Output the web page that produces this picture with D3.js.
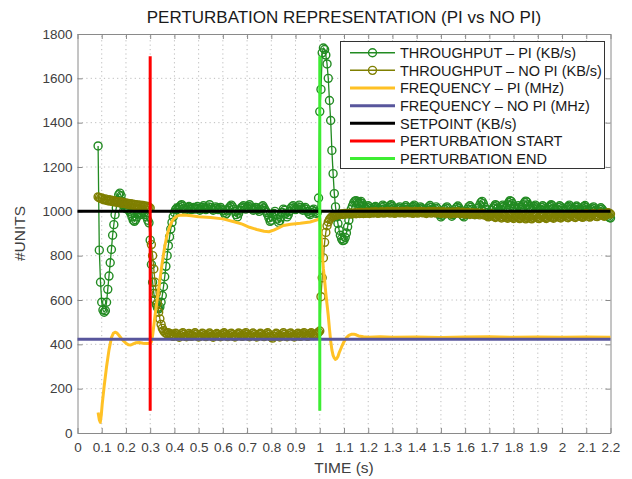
<!DOCTYPE html>
<html>
<head>
<meta charset="utf-8">
<script src="https://cdn.jsdelivr.net/npm/d3@7"></script>
<style>
  body { margin: 0; background: #fff; }
  svg  { display: block; font-family: "Liberation Sans", Arial, Helvetica, sans-serif; }
</style>
</head>
<body>
<svg id="chart" width="632" height="479"></svg>
<script>
'use strict';

// Sample clock of the two throughput traces (seconds).
var SAMPLE_T0 = 0.085;
var SAMPLE_DT = 0.005;

// Throughput with the PI controller (KB/s), one value per sample.
var throughputPI = [
  1295, 825, 680, 590, 555, 545, 552, 590, 648, 708, 768, 828, 892, 940, 985, 1015, 1050, 1075, 1082, 1070,
  1045, 1030, 1020, 1012, 1018, 1008, 1000, 990, 975, 960, 955, 962, 975, 990, 995, 985, 992, 1000, 995, 985,
  975, 960, 948, 870, 760, 680, 630, 600, 580, 565, 560, 568, 590, 620, 660, 705, 752, 800, 845, 885,
  920, 950, 975, 995, 1008, 1015, 1010, 1018, 1025, 1030, 1022, 1012, 1005, 1010, 1018, 1022, 1015, 1008, 1012, 1018,
  1010, 1015, 1022, 1012, 1005, 1010, 1018, 1025, 1015, 1008, 1012, 1020, 1030, 1018, 1010, 1005, 1012, 1020, 1015, 1008,
  1012, 1018, 1010, 1003, 995, 985, 990, 1005, 1015, 1022, 1028, 1020, 1010, 1000, 985, 975, 990, 1005, 1015, 1020,
  1025, 1018, 1010, 1015, 1022, 1030, 1020, 1012, 1005, 1010, 1018, 1015, 1008, 1000, 1010, 1020, 1025, 1015, 1005, 995,
  985, 970, 955, 960, 975, 990, 1000, 985, 965, 950, 958, 975, 995, 1010, 1005, 990, 975, 985, 1000, 1012,
  1020, 1025, 1015, 1008, 1012, 1020, 1028, 1018, 1010, 1005, 1012, 1018, 1010, 1000, 990, 985, 995, 1005, 1010, 1000,
  990, 995, 1060, 1450, 1550, 1715, 1737, 1730, 1705, 1665, 1600, 1500, 1410, 1275, 1170, 1080, 1020, 975, 945, 915,
  892, 876, 868, 870, 882, 902, 930, 960, 988, 1010, 1025, 1038, 1046, 1048, 1042, 1035, 1040, 1045, 1036, 1025,
  1015, 1010, 1018, 1025, 1020, 1012, 1005, 1010, 1018, 1022, 1015, 1008, 1002, 1010, 1020, 1028, 1022, 1012, 1006, 1012,
  1018, 1025, 1030, 1022, 1012, 1005, 1000, 1008, 1015, 1020, 1012, 1005, 1010, 1018, 1025, 1018, 1010, 1004, 1010, 1016,
  1022, 1028, 1020, 1012, 1006, 1012, 1020, 1015, 1008, 1002, 996, 1005, 1012, 1020, 1026, 1018, 1010, 1005, 1012, 1020,
  1012, 1000, 985, 975, 982, 995, 1008, 1015, 1020, 1012, 1000, 988, 978, 985, 998, 1010, 1018, 1024, 1015, 1005,
  992, 980, 975, 985, 998, 1010, 1020, 1025, 1018, 1008, 995, 985, 990, 1002, 1015, 1028, 1040, 1045, 1035, 1020,
  1008, 995, 985, 978, 990, 1005, 1015, 1022, 1030, 1025, 1015, 1005, 1010, 1020, 1028, 1022, 1012, 1018, 1030, 1040,
  1048, 1045, 1035, 1022, 1012, 1008, 1015, 1025, 1018, 1010, 1020, 1030, 1040, 1046, 1042, 1030, 1020, 1012, 1008, 1015,
  1022, 1028, 1020, 1012, 1006, 1010, 1018, 1025, 1020, 1012, 1005, 1010, 1018, 1024, 1030, 1025, 1015, 1008, 1004, 1010,
  1018, 1025, 1020, 1012, 1005, 1000, 1008, 1016, 1022, 1028, 1020, 1012, 1006, 1010, 1018, 1024, 1018, 1010, 1004, 1008,
  1015, 1022, 1026, 1018, 1010, 1004, 1000, 1008, 1015, 1020, 1012, 1005, 998, 1002, 1010, 1016, 1010, 1002, 995, 990,
  985, 978, 972, 970
];

// Throughput without the controller (KB/s), same sample clock.
var throughputNoPI = [
  1065, 1062, 1058, 1060, 1055, 1052, 1056, 1050, 1048, 1052, 1046, 1050, 1044, 1048, 1042, 1045, 1040, 1044, 1038, 1042,
  1036, 1040, 1035, 1038, 1032, 1036, 1030, 1034, 1028, 1032, 1027, 1030, 1026, 1029, 1024, 1028, 1022, 1026, 1020, 1024,
  1020, 1022, 1018, 1015, 850, 800, 740, 680, 630, 585, 545, 515, 490, 472, 462, 455, 450, 447, 452, 445,
  448, 440, 436, 442, 450, 446, 438, 432, 440, 448, 452, 445, 437, 434, 441, 449, 444, 436, 440, 447,
  452, 446, 438, 433, 437, 444, 450, 447, 440, 435, 439, 446, 451, 444, 437, 432, 438, 445, 449, 443,
  437, 434, 441, 448, 452, 446, 439, 435, 440, 447, 450, 443, 436, 433, 439, 446, 451, 447, 440, 436,
  441, 448, 453, 446, 438, 434, 440, 447, 451, 444, 437, 433, 438, 445, 450, 446, 439, 435, 441, 448,
  452, 445, 437, 432, 428, 436, 444, 450, 446, 438, 433, 439, 447, 452, 445, 437, 434, 440, 448, 451,
  444, 438, 433, 439, 446, 450, 443, 436, 441, 448, 453, 447, 440, 436, 442, 449, 452, 446, 440, 444,
  446, 450, 455, 460, 615, 700, 790, 860, 905, 935, 952, 963, 970, 975, 978, 980, 982, 984, 985, 986,
  987, 988, 986, 989, 990, 988, 991, 989, 992, 990, 988, 993, 991, 989, 994, 992, 990, 995, 992, 990,
  994, 991, 996, 993, 990, 995, 997, 992, 994, 998, 995, 991, 996, 993, 998, 995, 992, 997, 994, 999,
  996, 992, 997, 999, 994, 991, 996, 1000, 997, 993, 995, 999, 996, 992, 997, 1001, 996, 993, 998, 995,
  991, 996, 999, 995, 992, 997, 1000, 996, 993, 998, 994, 990, 995, 999, 996, 992, 997, 1000, 995, 992,
  996, 999, 994, 990, 995, 998, 993, 989, 994, 997, 992, 988, 993, 997, 994, 990, 995, 998, 993, 989,
  992, 996, 991, 987, 992, 995, 990, 986, 991, 994, 989, 985, 990, 993, 988, 984, 989, 992, 987, 983,
  986, 980, 975, 978, 984, 988, 982, 976, 972, 978, 985, 981, 975, 970, 976, 983, 979, 973, 969, 975,
  982, 978, 972, 968, 974, 981, 977, 971, 967, 973, 980, 976, 970, 966, 972, 979, 975, 969, 966, 972,
  978, 982, 976, 970, 967, 973, 979, 983, 977, 971, 968, 974, 980, 984, 978, 972, 969, 975, 981, 985,
  979, 973, 970, 976, 982, 986, 980, 974, 971, 977, 983, 987, 981, 975, 972, 978, 984, 988, 982, 976,
  973, 979, 985, 989, 983, 977, 974, 980, 986, 990, 984, 978, 976, 982, 988, 992, 986, 980, 978, 984,
  990, 994, 990, 988
];

// CPU frequency with the PI controller (MHz).
var freqPITime = [
  0.085, 0.09, 0.094, 0.098, 0.102, 0.11, 0.12, 0.13, 0.14, 0.148, 0.155, 0.162, 0.17, 0.18, 0.19, 0.2,
  0.21, 0.22, 0.23, 0.24, 0.255, 0.27, 0.285, 0.3, 0.305, 0.31, 0.32, 0.33, 0.34, 0.35, 0.36, 0.37,
  0.38, 0.39, 0.4, 0.41, 0.42, 0.44, 0.47, 0.5, 0.55, 0.6, 0.65, 0.68, 0.71, 0.74, 0.77, 0.79,
  0.81, 0.83, 0.85, 0.88, 0.92, 0.96, 0.99, 1.0, 1.005, 1.01, 1.015, 1.02, 1.025, 1.03, 1.035, 1.04,
  1.045, 1.05, 1.055, 1.06, 1.065, 1.07, 1.075, 1.08, 1.09, 1.1, 1.11, 1.12, 1.13, 1.14, 1.15, 1.16,
  1.18, 1.2, 1.25, 1.3, 1.4, 1.5, 1.6, 1.7, 1.8, 1.9, 2.0, 2.1, 2.2
];
var freqPI = [
  92, 60, 48, 80, 130, 210, 300, 375, 430, 450, 455, 452, 442, 428, 415, 405,
  398, 397, 402, 407, 408, 405, 404, 405, 412, 440, 530, 610, 690, 770, 840, 895,
  930, 955, 970, 978, 982, 983, 980, 976, 972, 966, 952, 942, 928, 918, 910, 908,
  915, 925, 936, 942, 946, 952, 962, 968, 900, 810, 740, 690, 630, 580, 530, 470,
  415, 375, 350, 338, 332, 336, 345, 362, 388, 412, 430, 440, 445, 446, 443, 438,
  434, 432, 434, 432, 433, 431, 433, 434, 432, 433, 432, 433, 432
];

// CPU frequency without the controller (MHz).
var freqNoPITime = [0, 2.2];
var freqNoPI     = [423, 423];

// Throughput setpoint (KB/s).
var setpointTime = [0, 2.2];
var setpoint     = [1000, 1000];

// Perturbation markers: time of start / end and the span they are drawn over.
var perturbStartTime = [0.3, 0.3];
var perturbEndTime   = [1.0, 1.0];
var perturbSpan      = [100, 1700];

var xTicks = [0, 0.1, 0.2, 0.3, 0.4, 0.5, 0.6, 0.7, 0.8, 0.9, 1, 1.1, 1.2, 1.3, 1.4, 1.5, 1.6, 1.7, 1.8, 1.9, 2, 2.1, 2.2];
var yTicks = [0, 200, 400, 600, 800, 1000, 1200, 1400, 1600, 1800];

var seriesLabels = [
  'THROUGHPUT \u2013 PI (KB/s)',
  'THROUGHPUT \u2013 NO PI (KB/s)',
  'FREQUENCY \u2013 PI (MHz)',
  'FREQUENCY \u2013 NO PI (MHz)',
  'SETPOINT (KB/s)',
  'PERTURBATION START',
  'PERTURBATION END'
];

var chart = {};
chart.const = {
  LEFT: 77.5, RIGHT: 610.5, TOP: 34, BOTTOM: 433,
  AXIS_GREY: '#8a8a8a',
  TEXT_GREY: '#404040',
  MARKER_R: 4
};
chart.util = {};

// Line styles, in the order of seriesLabels.
chart.styles = [
  { color: '#228b22', width: 1.3, marker: true },
  { color: '#7f7f00', width: 1.3, marker: true },
  { color: '#ffc125', width: 3 },
  { color: '#58569c', width: 3 },
  { color: '#000000', width: 3 },
  { color: '#ff0000', width: 3 },
  { color: '#3ded33', width: 3 }
];

chart.util.zip = function (xs, ys) {
  return xs.map(function (t, i) { return [t, ys[i]]; });
};

chart.util.sampled = function (values) {
  return values.map(function (v, i) { return [SAMPLE_T0 + i * SAMPLE_DT, v]; });
};

var C = chart.const;
var svg = d3.select('#chart');

var x = d3.scaleLinear().domain([0, 2.2]).range([C.LEFT, C.RIGHT]);
var y = d3.scaleLinear().domain([0, 1800]).range([C.BOTTOM, C.TOP]);

// dotted grid
var grid = svg.append('g')
  .attr('stroke', '#bcbcbc')
  .attr('stroke-width', 1)
  .attr('stroke-dasharray', '1.2,3.2');

grid.selectAll('line.vx').data(xTicks.slice(1, -1)).enter().append('line')
  .attr('x1', function (d) { return x(d); })
  .attr('x2', function (d) { return x(d); })
  .attr('y1', y(0))
  .attr('y2', y(1800));

grid.selectAll('line.hy').data(yTicks.slice(1, -1)).enter().append('line')
  .attr('x1', x(0))
  .attr('x2', x(2.2))
  .attr('y1', function (d) { return y(d); })
  .attr('y2', function (d) { return y(d); });

// axes, ticks pointing inwards on all four sides
chart.util.styleAxis = function (g) {
  g.attr('font-family', null).attr('font-size', null);
  g.select('.domain').attr('stroke', C.AXIS_GREY);
  g.selectAll('.tick line').attr('stroke', C.AXIS_GREY);
  g.selectAll('.tick text')
    .attr('fill', C.TEXT_GREY)
    .style('font-size', '13.5px');
};

svg.append('g')
  .attr('transform', 'translate(0,' + C.BOTTOM + ')')
  .call(d3.axisBottom(x).tickValues(xTicks).tickFormat(d3.format('~g'))
    .tickSizeInner(-5).tickSizeOuter(0).tickPadding(9))
  .call(chart.util.styleAxis);

svg.append('g')
  .attr('transform', 'translate(' + C.LEFT + ',0)')
  .call(d3.axisLeft(y).tickValues(yTicks).tickFormat(d3.format('d'))
    .tickSizeInner(-5).tickSizeOuter(0).tickPadding(5))
  .call(chart.util.styleAxis);

svg.append('g')
  .attr('transform', 'translate(0,' + C.TOP + ')')
  .call(d3.axisTop(x).tickValues(xTicks).tickFormat('').tickSizeInner(-5).tickSizeOuter(0))
  .call(chart.util.styleAxis);

svg.append('g')
  .attr('transform', 'translate(' + C.RIGHT + ',0)')
  .call(d3.axisRight(y).tickValues(yTicks).tickFormat('').tickSizeInner(-5).tickSizeOuter(0))
  .call(chart.util.styleAxis);

// series
var line = d3.line()
  .x(function (d) { return x(d[0]); })
  .y(function (d) { return y(d[1]); });

chart.util.drawSeries = function (points, style) {
  var g = svg.append('g');
  g.append('path')
    .datum(points)
    .attr('d', line)
    .attr('fill', 'none')
    .attr('stroke', style.color)
    .attr('stroke-width', style.width)
    .attr('stroke-linejoin', 'round');

  if (style.marker) {
    g.selectAll('circle').data(points).enter().append('circle')
      .attr('cx', function (d) { return x(d[0]); })
      .attr('cy', function (d) { return y(d[1]); })
      .attr('r', C.MARKER_R)
      .attr('fill', 'none')
      .attr('stroke', style.color)
      .attr('stroke-width', 1.4);
  }
};

var allSeries = [
  chart.util.sampled(throughputPI),
  chart.util.sampled(throughputNoPI),
  chart.util.zip(freqPITime, freqPI),
  chart.util.zip(freqNoPITime, freqNoPI),
  chart.util.zip(setpointTime, setpoint),
  chart.util.zip(perturbStartTime, perturbSpan),
  chart.util.zip(perturbEndTime, perturbSpan)
];

allSeries.forEach(function (points, i) {
  chart.util.drawSeries(points, chart.styles[i]);
});

// titles
svg.append('text')
  .attr('x', (C.LEFT + C.RIGHT) / 2)
  .attr('y', 23)
  .attr('text-anchor', 'middle')
  .style('font-size', '17px')
  .style('fill', '#1a1a1a')
  .text('PERTURBATION REPRESENTATION (PI vs NO PI)');

svg.append('text')
  .attr('x', (C.LEFT + C.RIGHT) / 2)
  .attr('y', 473)
  .attr('text-anchor', 'middle')
  .style('font-size', '15.5px')
  .style('fill', C.TEXT_GREY)
  .text('TIME (s)');

svg.append('text')
  .attr('transform', 'translate(25,' + ((C.TOP + C.BOTTOM) / 2) + ') rotate(-90)')
  .attr('text-anchor', 'middle')
  .style('font-size', '15.5px')
  .style('fill', C.TEXT_GREY)
  .text('#UNITS');

// legend
var legend = svg.append('g');
legend.append('rect')
  .attr('x', 340.5).attr('y', 41.5)
  .attr('width', 264).attr('height', 127)
  .attr('fill', '#fff')
  .attr('stroke', '#333')
  .attr('stroke-width', 1);

seriesLabels.forEach(function (label, i) {
  var style = chart.styles[i];
  var cy = 52.7 + i * 17.65;

  legend.append('line')
    .attr('x1', 350).attr('x2', 395)
    .attr('y1', cy).attr('y2', cy)
    .attr('stroke', style.color)
    .attr('stroke-width', style.marker ? 1.5 : 3);

  if (style.marker) {
    legend.append('circle')
      .attr('cx', 372.5).attr('cy', cy).attr('r', C.MARKER_R)
      .attr('fill', 'none')
      .attr('stroke', style.color)
      .attr('stroke-width', 1.4);
  }

  legend.append('text')
    .attr('x', 400).attr('y', cy)
    .attr('dy', '0.36em')
    .style('font-size', '14.5px')
    .style('fill', '#1a1a1a')
    .text(label);
});
</script>
</body>
</html>
